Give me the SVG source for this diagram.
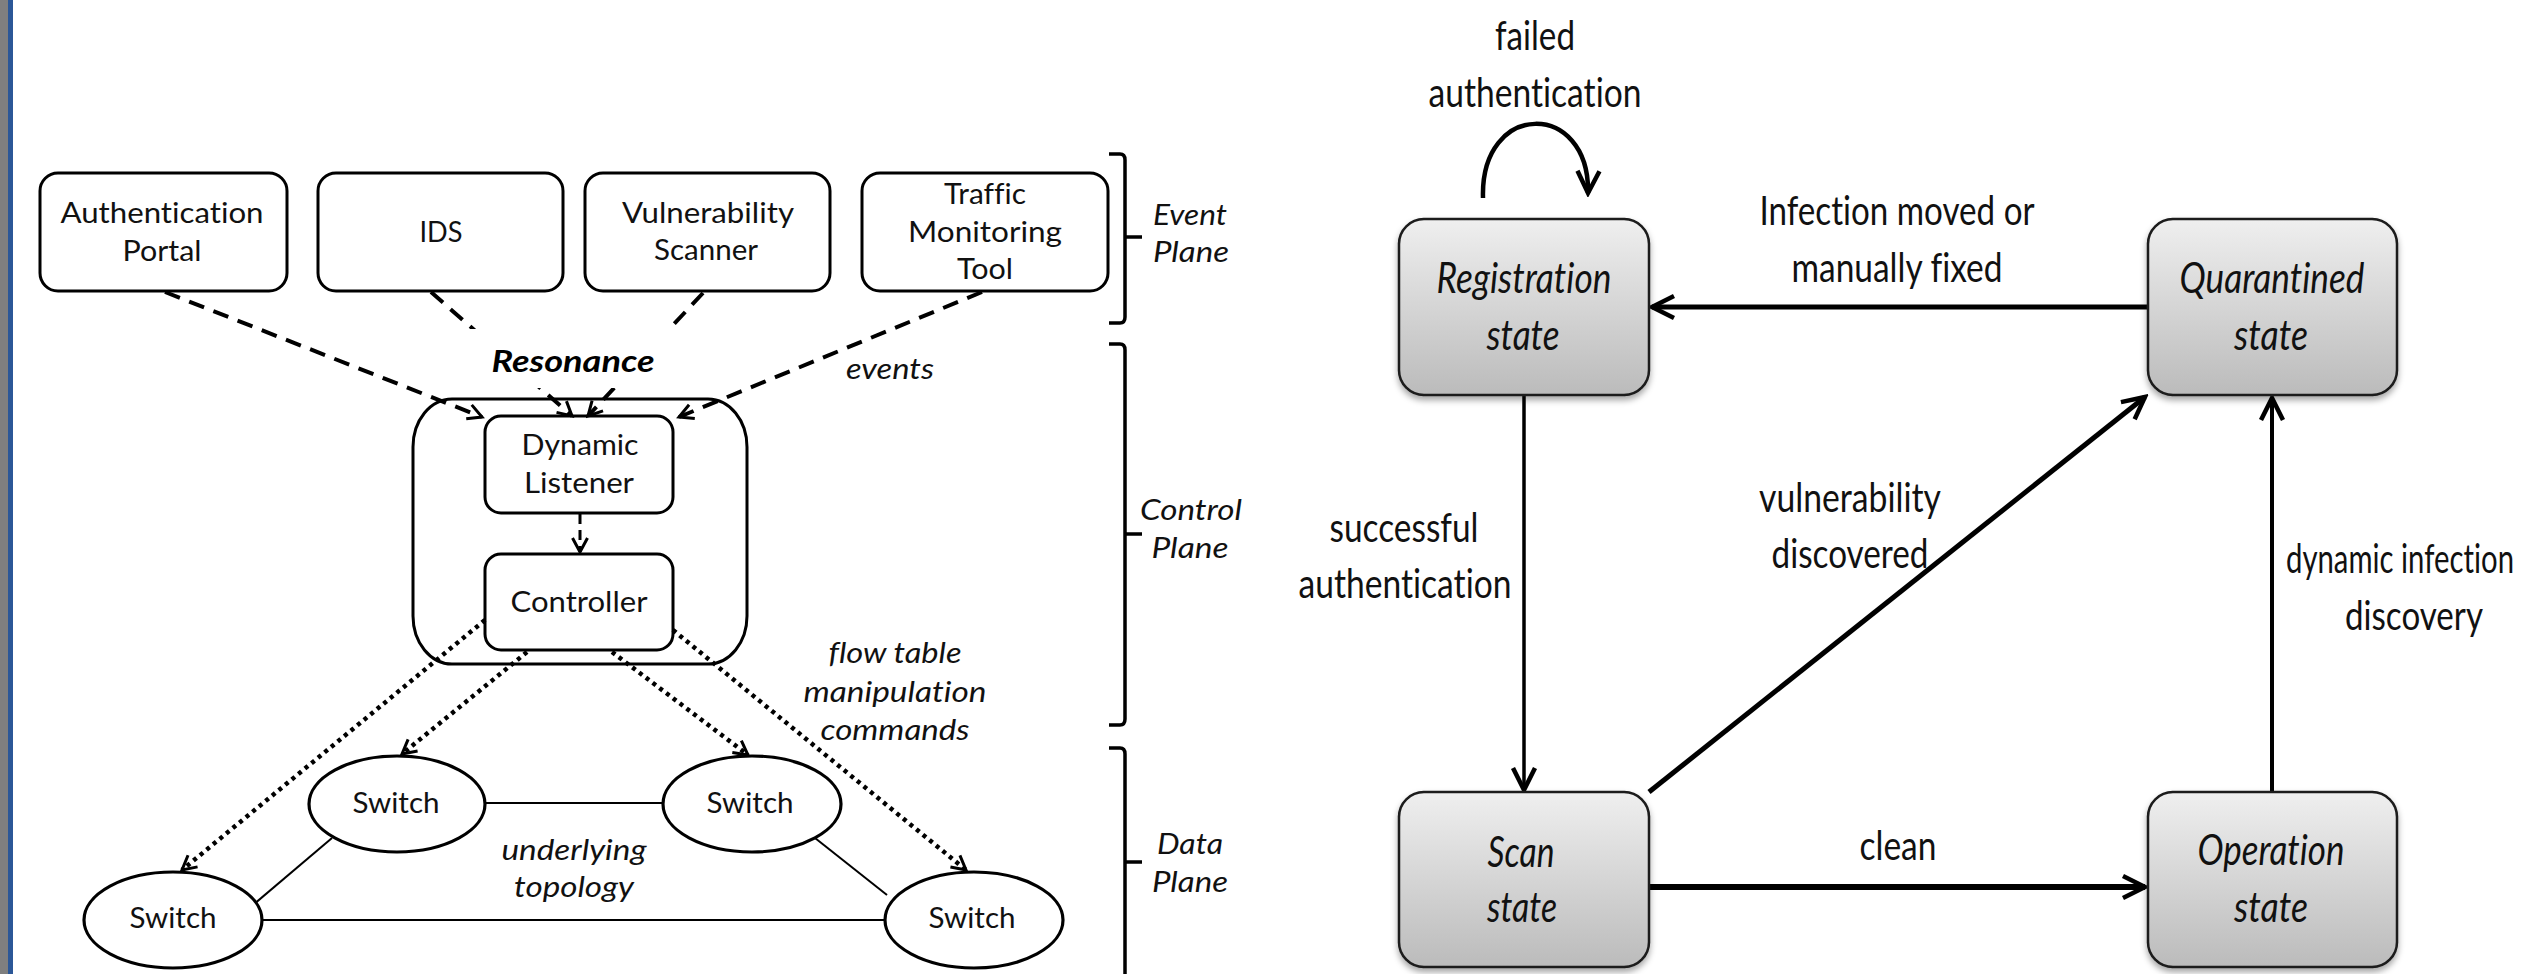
<svg xmlns="http://www.w3.org/2000/svg" width="2531" height="974" viewBox="0 0 2531 974">
  <style>
    text { font-variant-ligatures: none; font-feature-settings: "liga" 0, "dlig" 0; }
    .t   { font-family: Lato, "Liberation Sans", sans-serif; font-size: 28px; fill: #111; text-anchor: middle; }
    .ti  { font-family: Lato, "Liberation Sans", sans-serif; font-size: 28px; font-style: italic; fill: #111; text-anchor: middle; }
    .tb  { font-family: Lato, "Liberation Sans", sans-serif; font-size: 31px; font-style: italic; font-weight: bold; fill: #000; text-anchor: middle; }
    .r   { font-family: Lato, "Liberation Sans", sans-serif; font-size: 40px; fill: #111; text-anchor: middle; }
    .ri  { font-family: Lato, "Liberation Sans", sans-serif; font-size: 42px; font-style: italic; fill: #111; text-anchor: middle; }
    .box { fill: #fff; stroke: #000; stroke-width: 3; }
    .sw  { fill: #fff; stroke: #000; stroke-width: 3.2; }
    .link { stroke: #000; stroke-width: 2; fill: none; }
    .brace { stroke: #000; stroke-width: 3.5; fill: none; }
    .dash { stroke: #000; stroke-width: 4; fill: none; stroke-dasharray: 16 10; marker-end: url(#headS); }
    .dot  { stroke: #000; stroke-width: 4.5; fill: none; stroke-dasharray: 4 4.5; marker-end: url(#headS); }
    .state { fill: url(#stateFill); stroke: #1a1a1a; stroke-width: 2.5; filter: url(#shadow); }
    .arr { stroke: #000; fill: none; marker-end: url(#headL); }
  </style>
  <defs>
    <linearGradient id="stateFill" x1="0" y1="0" x2="0" y2="1">
      <stop offset="0" stop-color="#efefef"/>
      <stop offset="1" stop-color="#bbbbbb"/>
    </linearGradient>
    <filter id="shadow" x="-10%" y="-10%" width="120%" height="130%">
      <feDropShadow dx="0" dy="4" stdDeviation="3" flood-color="#000" flood-opacity="0.35"/>
    </filter>
    <marker id="headS" markerUnits="userSpaceOnUse" viewBox="0 0 20 20" refX="17" refY="10" markerWidth="20" markerHeight="20" orient="auto">
      <path d="M3,2.5 L17,10 L3,17.5" fill="none" stroke="#000" stroke-width="3"/>
    </marker>
    <marker id="headL" markerUnits="userSpaceOnUse" viewBox="0 0 30 30" refX="26" refY="15" markerWidth="30" markerHeight="30" orient="auto">
      <path d="M4,4 L26,15 L4,26" fill="none" stroke="#000" stroke-width="4.5"/>
    </marker>
  </defs>

  <rect width="2531" height="974" fill="#fff"/>
  <rect x="0" y="0" width="8" height="974" fill="#7f7f7f"/>
  <rect x="8" y="0" width="5" height="974" fill="#2b5797"/>

  <!-- plane brackets -->
  <g id="planes">
    <path class="brace" d="M1109,154 H1120 Q1125,154 1125,160 V317 Q1125,323 1120,323 H1109 M1125,237 H1142"/>
    <path class="brace" d="M1109,344 H1120 Q1125,344 1125,350 V719 Q1125,725 1120,725 H1109 M1125,534 H1142"/>
    <path class="brace" d="M1109,748 H1120 Q1125,748 1125,754 V980 M1125,862 H1142"/>
    <text class="ti" x="1190" y="225" textLength="74" lengthAdjust="spacingAndGlyphs">Event</text>
    <text class="ti" x="1191" y="262" textLength="76" lengthAdjust="spacingAndGlyphs">Plane</text>
    <text class="ti" x="1191" y="520" textLength="102" lengthAdjust="spacingAndGlyphs">Control</text>
    <text class="ti" x="1190" y="558" textLength="77" lengthAdjust="spacingAndGlyphs">Plane</text>
    <text class="ti" x="1190" y="854" textLength="66" lengthAdjust="spacingAndGlyphs">Data</text>
    <text class="ti" x="1190" y="892" textLength="76" lengthAdjust="spacingAndGlyphs">Plane</text>
  </g>

  <!-- physical links between switches -->
  <g id="topology-links">
    <line class="link" x1="485" y1="803" x2="663" y2="803"/>
    <line class="link" x1="262" y1="920" x2="885" y2="920"/>
    <line class="link" x1="332" y1="838" x2="253" y2="905"/>
    <line class="link" x1="815" y1="838" x2="887" y2="895"/>
  </g>

  <!-- event sources -->
  <g id="auth-portal">
    <rect class="box" x="40" y="173" width="247" height="118" rx="18"/>
    <text class="t" x="162" y="223" textLength="203" lengthAdjust="spacingAndGlyphs">Authentication</text>
    <text class="t" x="162" y="261" textLength="79" lengthAdjust="spacingAndGlyphs">Portal</text>
  </g>
  <g id="ids">
    <rect class="box" x="318" y="173" width="245" height="118" rx="18"/>
    <text class="t" x="441" y="242" textLength="43" lengthAdjust="spacingAndGlyphs">IDS</text>
  </g>
  <g id="vuln-scanner">
    <rect class="box" x="585" y="173" width="245" height="118" rx="18"/>
    <text class="t" x="708" y="223" textLength="172" lengthAdjust="spacingAndGlyphs">Vulnerability</text>
    <text class="t" x="706" y="260" textLength="104" lengthAdjust="spacingAndGlyphs">Scanner</text>
  </g>
  <g id="traffic-monitor">
    <rect class="box" x="862" y="173" width="246" height="118" rx="18"/>
    <text class="t" x="985" y="204" textLength="82" lengthAdjust="spacingAndGlyphs">Traffic</text>
    <text class="t" x="985" y="242" textLength="154" lengthAdjust="spacingAndGlyphs">Monitoring</text>
    <text class="t" x="985" y="279" textLength="56" lengthAdjust="spacingAndGlyphs">Tool</text>
  </g>

  <!-- Resonance control block -->
  <g id="resonance">
    <rect class="box" x="413" y="399" width="334" height="265" rx="39" ry="48"/>
  </g>
  <g id="dynamic-listener">
    <rect class="box" x="485" y="416" width="188" height="97" rx="16"/>
    <text class="t" x="580" y="455" textLength="117" lengthAdjust="spacingAndGlyphs">Dynamic</text>
    <text class="t" x="579" y="493" textLength="110" lengthAdjust="spacingAndGlyphs">Listener</text>
  </g>
  <g id="controller">
    <rect class="box" x="485" y="554" width="188" height="96" rx="16"/>
    <text class="t" x="579" y="612" textLength="137" lengthAdjust="spacingAndGlyphs">Controller</text>
  </g>

  <!-- switches -->
  <g id="switch-tl">
    <ellipse class="sw" cx="397" cy="804" rx="88" ry="48"/>
    <text class="t" x="396" y="813" textLength="87" lengthAdjust="spacingAndGlyphs">Switch</text>
  </g>
  <g id="switch-tr">
    <ellipse class="sw" cx="752" cy="804" rx="89" ry="48"/>
    <text class="t" x="750" y="813" textLength="87" lengthAdjust="spacingAndGlyphs">Switch</text>
  </g>
  <g id="switch-bl">
    <ellipse class="sw" cx="173" cy="920" rx="89" ry="48"/>
    <text class="t" x="173" y="928" textLength="87" lengthAdjust="spacingAndGlyphs">Switch</text>
  </g>
  <g id="switch-br">
    <ellipse class="sw" cx="974" cy="920" rx="89" ry="48"/>
    <text class="t" x="972" y="928" textLength="87" lengthAdjust="spacingAndGlyphs">Switch</text>
  </g>

  <!-- events and flow-table commands -->
  <g id="left-connectors">
    <path class="dash" d="M165,292 L482,417"/>
    <path class="dash" d="M431,292 L572,416"/>
    <path class="dash" d="M703,293 L588,416"/>
    <path class="dash" d="M982,292 L679,417"/>
    <path d="M580,514 V552" fill="none" stroke="#000" stroke-width="3" stroke-dasharray="10 6" marker-end="url(#headS)"/>
    <path class="dot" d="M485,620 L182,870"/>
    <path class="dot" d="M527,652 L402,754"/>
    <path class="dot" d="M612,652 L748,755"/>
    <path class="dot" d="M673,630 L966,870"/>
  </g>

  <g id="left-labels">
    <rect x="470" y="329" width="212" height="59" fill="#fff"/>
    <text class="tb" x="573" y="372" textLength="163" lengthAdjust="spacingAndGlyphs">Resonance</text>
    <text class="ti" x="890" y="379" textLength="88" lengthAdjust="spacingAndGlyphs">events</text>
    <text class="ti" x="895" y="663" textLength="133" lengthAdjust="spacingAndGlyphs">flow table</text>
    <text class="ti" x="895" y="702" textLength="183" lengthAdjust="spacingAndGlyphs">manipulation</text>
    <text class="ti" x="895" y="740" textLength="149" lengthAdjust="spacingAndGlyphs">commands</text>
    <text class="ti" x="574" y="860" textLength="145" lengthAdjust="spacingAndGlyphs">underlying</text>
    <text class="ti" x="574" y="897" textLength="120" lengthAdjust="spacingAndGlyphs">topology</text>
  </g>

  <!-- state machine transitions -->
  <g id="state-transitions">
    <path class="arr" stroke-width="4.5" d="M1483,198 C1480,100 1590,100 1588,193"/>
    <path class="arr" stroke-width="5" d="M2148,307 H1652"/>
    <path class="arr" stroke-width="3.5" d="M1524,395 V790"/>
    <path class="arr" stroke-width="5" d="M1649,792 L2145,397"/>
    <path class="arr" stroke-width="4" d="M2272,792 V398"/>
    <path class="arr" stroke-width="6" d="M1649,887 H2145"/>
  </g>

  <g id="transition-labels">
    <text class="r" x="1535" y="50" textLength="80" lengthAdjust="spacingAndGlyphs">failed</text>
    <text class="r" x="1535" y="107" textLength="213" lengthAdjust="spacingAndGlyphs">authentication</text>
    <text class="r" x="1897" y="225" textLength="275" lengthAdjust="spacingAndGlyphs">Infection moved or</text>
    <text class="r" x="1897" y="282" textLength="211" lengthAdjust="spacingAndGlyphs">manually fixed</text>
    <text class="r" x="1404" y="542" textLength="149" lengthAdjust="spacingAndGlyphs">successful</text>
    <text class="r" x="1405" y="598" textLength="213" lengthAdjust="spacingAndGlyphs">authentication</text>
    <text class="r" x="1850" y="512" textLength="182" lengthAdjust="spacingAndGlyphs">vulnerability</text>
    <text class="r" x="1850" y="568" textLength="157" lengthAdjust="spacingAndGlyphs">discovered</text>
    <text class="r" x="1898" y="860" textLength="77" lengthAdjust="spacingAndGlyphs">clean</text>
    <text class="r" x="2400" y="0" transform="translate(0,573) scale(1,1.18)" textLength="228" lengthAdjust="spacingAndGlyphs" style="font-size: 34px">dynamic infection</text>
    <text class="r" x="2414" y="630" textLength="138" lengthAdjust="spacingAndGlyphs">discovery</text>
  </g>

  <!-- states -->
  <g id="registration-state">
    <rect class="state" x="1399" y="219" width="250" height="176" rx="25"/>
    <text class="ri" x="1524" y="293" textLength="175" lengthAdjust="spacingAndGlyphs">Registration</text>
    <text class="ri" x="1523" y="350" textLength="73" lengthAdjust="spacingAndGlyphs">state</text>
  </g>
  <g id="quarantined-state">
    <rect class="state" x="2148" y="219" width="249" height="176" rx="25"/>
    <text class="ri" x="2272" y="293" textLength="185" lengthAdjust="spacingAndGlyphs">Quarantined</text>
    <text class="ri" x="2271" y="350" textLength="74" lengthAdjust="spacingAndGlyphs">state</text>
  </g>
  <g id="scan-state">
    <rect class="state" x="1399" y="792" width="250" height="175" rx="25"/>
    <text class="ri" x="1521" y="867" textLength="67" lengthAdjust="spacingAndGlyphs">Scan</text>
    <text class="ri" x="1522" y="922" textLength="70" lengthAdjust="spacingAndGlyphs">state</text>
  </g>
  <g id="operation-state">
    <rect class="state" x="2148" y="792" width="249" height="175" rx="25"/>
    <text class="ri" x="2271" y="865" textLength="147" lengthAdjust="spacingAndGlyphs">Operation</text>
    <text class="ri" x="2271" y="922" textLength="74" lengthAdjust="spacingAndGlyphs">state</text>
  </g>
</svg>
